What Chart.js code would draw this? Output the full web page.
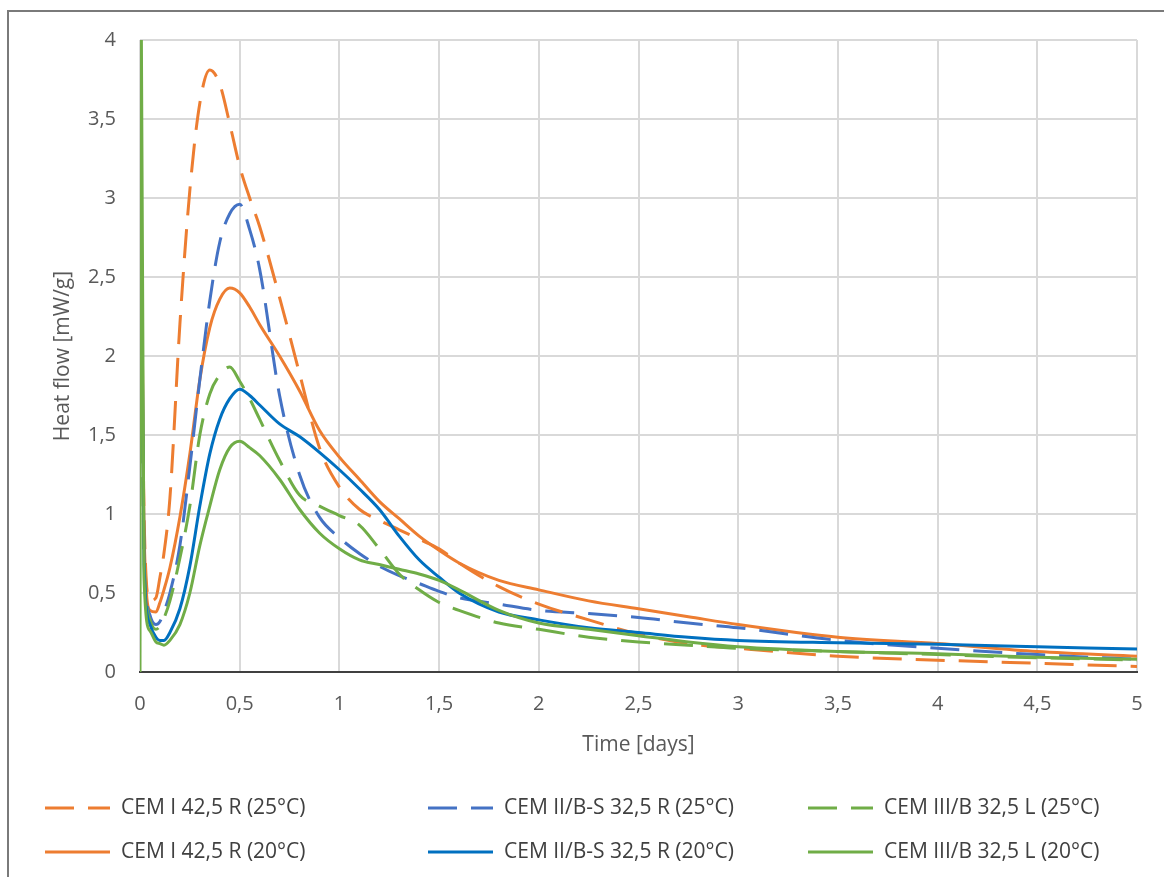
<!DOCTYPE html>
<html>
<head>
<meta charset="utf-8">
<script src="https://cdn.jsdelivr.net/npm/chart.js@4.4.1/dist/chart.umd.min.js"></script>
<style>
  html, body { margin: 0; padding: 0; background: #fff; }
  #wrap { width: 1164px; height: 877px; position: relative; }
</style>
</head>
<body>
<div id="wrap"><canvas id="myChart"></canvas></div>
<script>
// time axis (days), shared by all series
const days = [0, 0.005, 0.02, 0.05, 0.08, 0.1, 0.12, 0.15, 0.2, 0.25, 0.3, 0.35, 0.4, 0.45, 0.5, 0.55, 0.6, 0.7, 0.8, 0.9, 1.0, 1.1, 1.2, 1.3, 1.4, 1.5, 1.6, 1.8, 2.0, 2.25, 2.5, 2.75, 3, 3.5, 4, 4.5, 5];

// heat flow [mW/g]
const cem1_25 = [4.5, 3.0, 1.0, 0.45, 0.47, 0.6, 0.75, 1.1, 2.2, 3.05, 3.6, 3.81, 3.72, 3.47, 3.2, 3.0, 2.82, 2.37, 1.89, 1.42, 1.17, 1.03, 0.96, 0.9, 0.84, 0.78, 0.69, 0.54, 0.43, 0.33, 0.24, 0.18, 0.15, 0.1, 0.075, 0.055, 0.035];
const cem2_25 = [4.5, 3.0, 0.8, 0.36, 0.3, 0.32, 0.38, 0.5, 0.8, 1.3, 1.85, 2.35, 2.72, 2.9, 2.96, 2.8, 2.55, 1.75, 1.25, 0.98, 0.85, 0.75, 0.67, 0.61, 0.56, 0.51, 0.47, 0.43, 0.39, 0.37, 0.345, 0.31, 0.28, 0.2, 0.15, 0.11, 0.08];
const cem3_25 = [4.5, 3.0, 0.75, 0.33, 0.27, 0.29, 0.34, 0.45, 0.72, 1.05, 1.5, 1.76, 1.88, 1.93, 1.84, 1.73, 1.6, 1.34, 1.12, 1.05, 0.99, 0.93, 0.78, 0.62, 0.52, 0.44, 0.39, 0.31, 0.27, 0.22, 0.19, 0.17, 0.15, 0.13, 0.11, 0.09, 0.076];
const cem1_20 = [4.5, 3.0, 0.9, 0.39, 0.38, 0.44, 0.52, 0.66, 0.98, 1.38, 1.85, 2.18, 2.36, 2.43, 2.4, 2.31, 2.2, 2.0, 1.78, 1.53, 1.36, 1.22, 1.08, 0.97, 0.86, 0.77, 0.69, 0.58, 0.52, 0.45, 0.4, 0.35, 0.3, 0.22, 0.18, 0.13, 0.1];
const cem2_20 = [4.5, 3.0, 0.7, 0.3, 0.22, 0.2, 0.2, 0.25, 0.4, 0.67, 1.05, 1.38, 1.6, 1.73, 1.79, 1.75, 1.69, 1.57, 1.49, 1.39, 1.28, 1.16, 1.03, 0.86, 0.71, 0.6, 0.5, 0.38, 0.33, 0.28, 0.25, 0.22, 0.2, 0.185, 0.175, 0.16, 0.145];
const cem3_20 = [0, 4.5, 0.6, 0.26, 0.19, 0.18, 0.17, 0.2, 0.3, 0.5, 0.8, 1.05, 1.28, 1.42, 1.46, 1.42, 1.37, 1.22, 1.03, 0.88, 0.78, 0.71, 0.68, 0.65, 0.62, 0.58, 0.52, 0.39, 0.31, 0.27, 0.23, 0.19, 0.16, 0.13, 0.115, 0.094, 0.08];

const labels = ['CEM I 42,5 R (25°C)', 'CEM II/B-S 32,5 R (25°C)', 'CEM III/B 32,5 L (25°C)',
                'CEM I 42,5 R (20°C)', 'CEM II/B-S 32,5 R (20°C)', 'CEM III/B 32,5 L (20°C)'];
const series = [cem1_25, cem2_25, cem3_25, cem1_20, cem2_20, cem3_20];
const colors = ['#ED7D31', '#4472C4', '#70AD47', '#ED7D31', '#0070C0', '#70AD47'];
const dashes = [[29, 14], [29, 14], [29, 14], [], [], []];
const drawOrder = [3, 4, 2, 5, 1, 0];

const toPoints = vals => vals.map((v, i) => ({ x: days[i], y: v }));
const comma = v => String(v).replace('.', ',');

const FONT = "'Open Sans', sans-serif";

const frame = {
  id: 'frame',
  beforeDraw(chart) {
    const c = chart.ctx;
    c.save();
    c.fillStyle = '#fff';
    c.fillRect(0, 0, chart.width, chart.height);
    c.strokeStyle = '#7a7a7a';
    c.lineWidth = 2;
    c.strokeRect(8, 11, chart.width + 20, chart.height + 20);
    c.restore();
  }
};

// Excel-like legend: 3 fixed columns, 2 rows
const legendCols = [45, 428, 808];
const legendRows = [808, 852];
const fixedLegend = {
  id: 'fixedLegend',
  afterDraw(chart) {
    const c = chart.ctx;
    c.save();
    c.font = "21px " + FONT;
    c.textBaseline = 'middle';
    c.fillStyle = '#404040';
    chart.data.datasets.forEach((ds, i) => {
      const x = legendCols[i % 3];
      const y = legendRows[Math.floor(i / 3)];
      c.beginPath();
      c.strokeStyle = ds.borderColor;
      c.lineWidth = 3;
      c.setLineDash(ds.borderDash);
      c.moveTo(x, y);
      c.lineTo(x + 65, y);
      c.stroke();
      c.setLineDash([]);
      c.fillText(ds.label, x + 76, y);
    });
    c.restore();
  }
};

new Chart(document.getElementById('myChart'), {
  type: 'line',
  data: {
    datasets: series.map((vals, i) => ({
      label: labels[i],
      data: toPoints(vals),
      borderColor: colors[i],
      backgroundColor: colors[i],
      borderDash: dashes[i],
      borderWidth: 3,
      pointRadius: 0,
      cubicInterpolationMode: 'monotone',
      order: drawOrder[i]
    }))
  },
  options: {
    responsive: true,
    maintainAspectRatio: false,
    animation: false,
    layout: { padding: { left: 48, right: 27, top: 40, bottom: 115 } },
    plugins: { legend: { display: false }, tooltip: { enabled: false } },
    scales: {
      x: {
        type: 'linear',
        min: 0, max: 5,
        afterFit: s => { s.height = 90; },
        ticks: { stepSize: 0.5, padding: 20, color: '#595959', font: { family: FONT, size: 20 }, callback: comma },
        grid: { color: '#d9d9d9', lineWidth: 2, drawTicks: false },
        border: { display: true, color: '#404040', width: 2 },
        title: { display: true, text: 'Time [days]', color: '#595959', font: { family: FONT, size: 21 }, padding: { top: 4 } }
      },
      y: {
        min: 0, max: 4,
        afterFit: s => { s.width = 92; },
        ticks: { stepSize: 0.5, padding: 24, color: '#595959', font: { family: FONT, size: 20 }, callback: comma },
        grid: { color: '#d9d9d9', lineWidth: 2, drawTicks: false },
        border: { display: false },
        title: { display: true, text: 'Heat flow [mW/g]', color: '#595959', font: { family: FONT, size: 21 }, padding: { top: 2, bottom: 0 } }
      }
    }
  },
  plugins: [frame, fixedLegend]
});
</script>
</body>
</html>
